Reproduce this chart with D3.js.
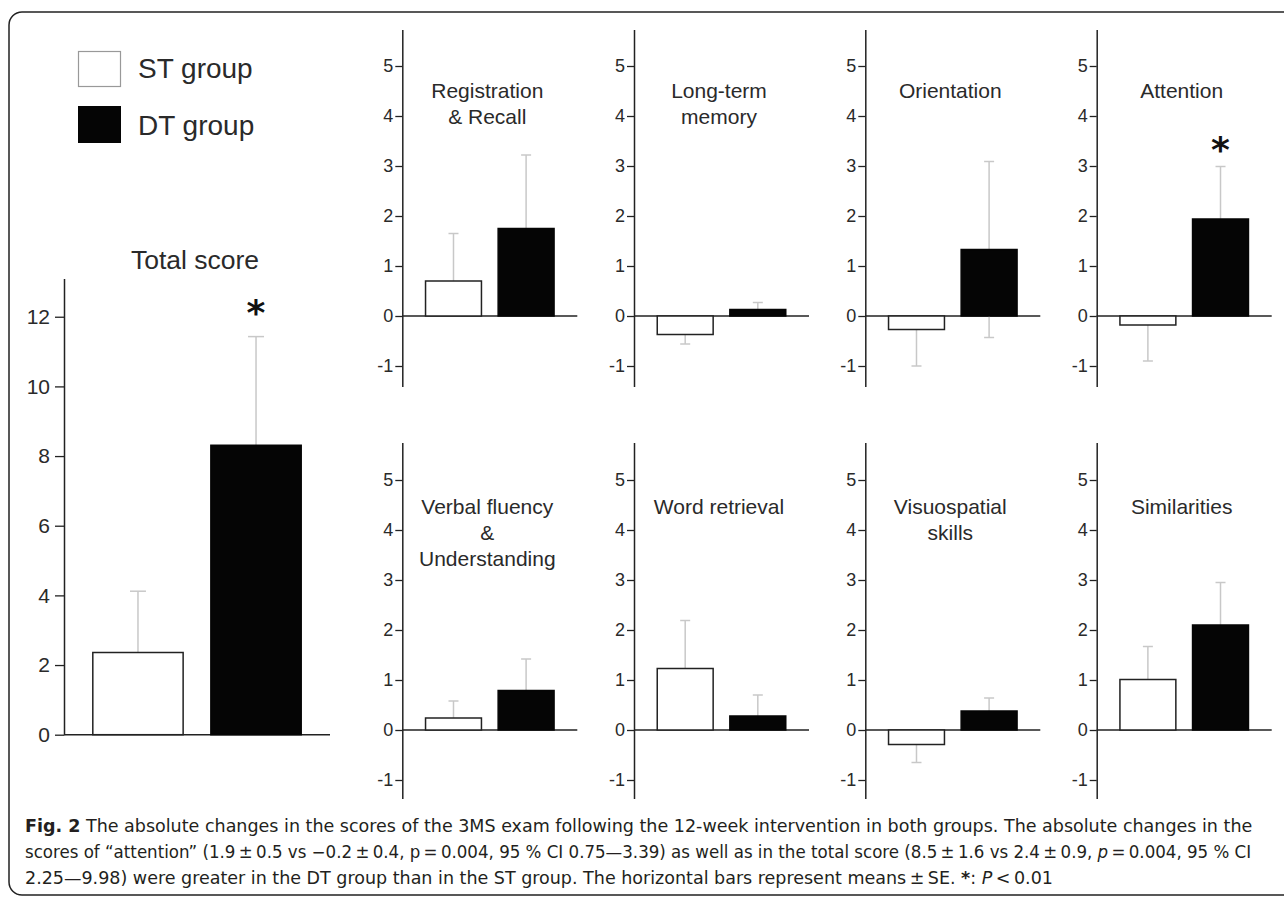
<!DOCTYPE html>
<html><head><meta charset="utf-8">
<script src="https://cdn.jsdelivr.net/npm/d3@7"></script>
<style>
html,body{margin:0;padding:0;background:#fff;}
svg{display:block;}
</style>
</head><body>
<svg id="chart" width="1284" height="898"></svg>
<script>
// ---------------- DATA ----------------
const groups = ["ST group", "DT group"];

const panelTitles = [
  ["Registration", "& Recall"],
  ["Long-term", "memory"],
  ["Orientation"],
  ["Attention"],
  ["Verbal fluency", "&", "Understanding"],
  ["Word retrieval"],
  ["Visuospatial", "skills"],
  ["Similarities"]
];
const stMean = [0.70, -0.37, -0.27, -0.18, 0.24, 1.23, -0.29, 1.01];
const stSE   = [0.95,  0.19,  0.73,  0.72, 0.34, 0.96,  0.36, 0.66];
const dtMean = [1.75,  0.13,  1.33,  1.94, 0.79, 0.28,  0.38, 2.10];
const dtSE   = [1.47,  0.14,  1.76,  1.05, 0.63, 0.42,  0.26, 0.85];
const dtTwoSided = [false, false, true, false, false, false, false, false];
const dtSignificant = [false, false, false, true, false, false, false, false];

const subTicks = [-1, 0, 1, 2, 3, 4, 5];
const subDomainTop = [-1.41, 5.73];
const subDomainBottom = [-1.37, 5.75];

const totalTitle = "Total score";
const totalMean = [2.36, 8.31];
const totalSE = [1.76, 3.12];
const totalSignificant = [false, true];
const totalTicks = [0, 2, 4, 6, 8, 10, 12];
const totalDomain = [0, 13.1];

const captionLines = [
  [{t:"Fig. 2", b:true}, {t:" The absolute changes in the scores of the 3MS exam following the 12-week intervention in both groups. The absolute changes in the"}],
  [{t:"scores of \u201cattention\u201d (1.9\u2009\u00b1\u20090.5 vs \u22120.2\u2009\u00b1\u20090.4, p\u2009=\u20090.004, 95 % CI 0.75\u20143.39) as well as in the total score (8.5\u2009\u00b1\u20091.6 vs 2.4\u2009\u00b1\u20090.9, "}, {t:"p", i:true}, {t:"\u2009=\u20090.004, 95 % CI"}],
  [{t:"2.25\u20149.98) were greater in the DT group than in the ST group. The horizontal bars represent means\u2009\u00b1\u2009SE. "}, {t:"*", b:true}, {t:": "}, {t:"P", i:true}, {t:"\u2009<\u20090.01"}]
];

// ---------------- STYLE / LAYOUT ----------------
const FONT = "'Liberation Sans', Arial, Helvetica, sans-serif";
const TXT = "#2a2a2a";
const ERR = "#c8c8c8";
const svg = d3.select("#chart");

// frame
svg.append("rect").attr("x", 9).attr("y", 12).attr("width", 1300).attr("height", 883)
  .attr("rx", 13).attr("fill", "none").attr("stroke", "#222").attr("stroke-width", 1.5);

// legend
const legend = svg.append("g");
legend.append("rect").attr("x", 78.5).attr("y", 51.5).attr("width", 42).attr("height", 35)
  .attr("fill", "#fff").attr("stroke", "#999").attr("stroke-width", 1.2);
legend.append("rect").attr("x", 78).attr("y", 106).attr("width", 43).attr("height", 37)
  .attr("fill", "#050505");
legend.selectAll("text.lg").data(groups).join("text")
  .attr("x", 138).attr("y", (d, i) => 78 + i * 57)
  .attr("font-family", FONT).attr("font-size", 28).attr("fill", TXT).text(d => d);

function styleAxis(g, fs) {
  g.selectAll("path.domain").attr("stroke", "#222").attr("stroke-width", 1.5);
  g.selectAll(".tick line").attr("stroke", "#222").attr("stroke-width", 1.3);
  g.selectAll(".tick text").attr("font-family", FONT).attr("font-size", fs).attr("fill", TXT);
}

function drawPanel(opt) {
  const g = svg.append("g");
  const x = d3.scaleBand().domain(groups).range([opt.x0, opt.x0 + opt.xLen])
    .paddingInner(opt.padIn).paddingOuter(opt.padOut);
  const y = opt.y;
  // y axis
  const ax = g.append("g").attr("transform", `translate(${opt.x0},0)`)
    .call(d3.axisLeft(y).tickValues(opt.ticks).tickSize(opt.tickSize).tickSizeOuter(0)
      .tickPadding(opt.tickPad).tickFormat(d => String(d)));
  styleAxis(ax, opt.tickFont);
  // zero line
  g.append("line").attr("x1", opt.x0).attr("x2", opt.x0 + opt.xLen)
    .attr("y1", y(0)).attr("y2", y(0)).attr("stroke", "#222").attr("stroke-width", 1.5);
  // error bars (behind bars)
  opt.means.forEach((m, i) => {
    const cx = x(groups[i]) + x.bandwidth() / 2;
    const se = opt.ses[i];
    const dir = m >= 0 ? 1 : -1;
    const ends = opt.twoSided[i] ? [m - se, m + se] : [m, m + dir * se];
    g.append("line").attr("x1", cx).attr("x2", cx).attr("y1", y(ends[0])).attr("y2", y(ends[1]))
      .attr("stroke", ERR).attr("stroke-width", 1.5);
    const capVals = opt.twoSided[i] ? ends : [ends[1]];
    capVals.forEach(v => {
      g.append("line").attr("x1", cx - opt.cap / 2).attr("x2", cx + opt.cap / 2)
        .attr("y1", y(v)).attr("y2", y(v)).attr("stroke", ERR).attr("stroke-width", 1.5);
    });
    if (opt.sig[i]) {
      const top = y(m + dir * se);
      g.append("text").attr("x", cx).attr("y", top - opt.starOff + 19)
        .attr("text-anchor", "middle").attr("font-family", "'DejaVu Sans', sans-serif")
        .attr("font-size", 36).attr("font-weight", "bold").attr("fill", "#111").text("*");
    }
  });
  // bars
  g.selectAll("rect.bar").data(opt.means).join("rect")
    .attr("x", (d, i) => x(groups[i]))
    .attr("width", x.bandwidth())
    .attr("y", d => Math.min(y(0), y(d)))
    .attr("height", d => Math.abs(y(d) - y(0)))
    .attr("fill", (d, i) => i === 0 ? "#fff" : "#050505")
    .attr("stroke", (d, i) => i === 0 ? "#222" : "#050505")
    .attr("stroke-width", 1.5);
  // title
  const t = g.append("text").attr("text-anchor", "middle").attr("font-family", FONT)
    .attr("font-size", opt.titleFont).attr("fill", TXT);
  opt.title.forEach((line, k) => {
    t.append("tspan").attr("x", opt.titleX).attr("y", opt.titleY + k * 26).text(line);
  });
}

// total score panel
drawPanel({
  x0: 64, xLen: 266, padIn: 0.235, padOut: 0.244,
  y: d3.scaleLinear().domain(totalDomain).range([734.7, 734.7 - totalDomain[1] * 34.83]),
  ticks: totalTicks, tickSize: 9, tickPad: 5, tickFont: 21,
  means: totalMean, ses: totalSE, twoSided: [false, false], sig: totalSignificant,
  cap: 16, starOff: 31, title: [totalTitle], titleX: 195, titleY: 269, titleFont: 26.5
});

// sub-panels
const colX = [402.3, 634, 865.3, 1096.7];
const rowScales = [
  d3.scaleLinear().domain(subDomainTop).range([386.5, 29.5]),
  d3.scaleLinear().domain(subDomainBottom).range([798.5, 442.5])
];
const rowTitleY = [97.5, 514];
panelTitles.forEach((title, p) => {
  const r = Math.floor(p / 4), c = p % 4;
  drawPanel({
    x0: colX[c], xLen: 175, padIn: 0.23, padOut: 0.32,
    y: rowScales[r], ticks: subTicks, tickSize: 7, tickPad: 2, tickFont: 18,
    means: [stMean[p], dtMean[p]], ses: [stSE[p], dtSE[p]],
    twoSided: [false, dtTwoSided[p]], sig: [false, dtSignificant[p]],
    cap: 10, starOff: 24, title: title, titleX: colX[c] + 85, titleY: rowTitleY[r], titleFont: 21
  });
});

// caption
const capFont = "'Liberation Sans Narrow', 'DejaVu Sans Condensed', 'Liberation Sans', sans-serif";
const capG = svg.append("g");
const capBase = [832, 858, 884];
const capTargetW = [1253 - 25, 1252 - 25, null];
const capNodes = captionLines.map((segs, k) => {
  const t = capG.append("text").attr("x", 0).attr("y", 0)
    .attr("font-family", capFont).attr("font-size", 17).attr("fill", "#231f20");
  segs.forEach(s => {
    const ts = t.append("tspan").text(s.t);
    if (s.b) ts.attr("font-weight", "bold");
    if (s.i) ts.attr("font-style", "italic");
  });
  return t;
});
const scales = capNodes.map((t, k) => capTargetW[k] ? capTargetW[k] / t.node().getComputedTextLength() : null);
scales[2] = scales[0];
capNodes.forEach((t, k) => t.attr("transform", `translate(25,${capBase[k]}) scale(${scales[k]},1)`));
</script>
</body></html>
